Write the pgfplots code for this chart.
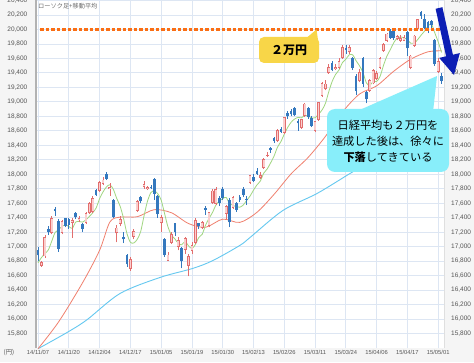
\documentclass[border=0pt]{standalone}
\usepackage{pgfplots}
\pgfplotsset{compat=1.18}
\usepackage{pgfplotstable}
\usepackage{fontspec}
\setmainfont{Liberation Sans}
\newfontfamily\jp{Noto Sans CJK JP}
\definecolor{gridc}{RGB}{221,230,243}
\definecolor{upfill}{RGB}{250,206,206}
\definecolor{upline}{RGB}{226,110,110}
\definecolor{downc}{RGB}{52,120,190}
\definecolor{mafive}{RGB}{160,214,128}
\definecolor{matwf}{RGB}{240,128,110}
\definecolor{masvf}{RGB}{100,200,240}
\definecolor{orangeline}{RGB}{250,110,20}
\definecolor{ybox}{RGB}{248,214,72}
\definecolor{cbox}{RGB}{136,238,250}
\definecolor{arrowc}{RGB}{12,30,180}
\definecolor{labc}{RGB}{85,85,85}
\definecolor{bgc}{RGB}{245,245,245}

\pgfplotstableread{
d O H L C
1 16740 16800 16720 16780
2 16870 17160 16850 17124
4 17190 17420 17170 17392
7 17200 17370 17170 17344
10 17330 17400 17120 17357
12 17370 17420 17340 17383
14 17330 17480 17310 17459
15 17470 17620 17450 17590
16 17480 17700 17460 17663
18 17780 17900 17750 17887
19 17870 17960 17850 17920
21 17800 17880 17700 17813
23 17190 17300 17060 17257
24 17320 17420 17280 17371
27 16700 16860 16670 16819
28 17140 17250 17100 17211
29 17500 17640 17480 17621
31 17830 17900 17800 17854
32 17800 17840 17780 17818
36 17330 17440 17200 17408
38 16810 16930 16800 16885
39 17060 17200 17040 17167
41 17000 17130 16950 17087
43 16960 17140 16900 17108
44 16740 16900 16590 16864
45 16950 17060 16900 17014
46 17060 17400 17040 17366
48 17260 17350 17240 17329
50 17290 17480 17270 17468
51 17610 17790 17590 17768
52 17600 17820 17580 17795
55 17460 17580 17380 17558
57 17540 17700 17520 17678
62 17885 17990 17870 17979
65 17960 18030 17940 17987
66 18090 18230 18070 18199
67 18260 18310 18240 18264
70 18470 18620 18450 18603
72 18580 18790 18560 18785
77 18650 18760 18630 18751
78 18810 18990 18790 18971
81 18600 18740 18580 18723
82 18760 19000 18740 18991
83 19090 19270 19070 19254
84 19180 19300 19160 19246
85 19400 19520 19390 19480
87 19460 19520 19440 19476
88 19480 19600 19460 19560
89 19610 19780 19590 19754
91 19690 19780 19660 19746
94 19290 19450 19270 19411
97 19160 19320 19140 19290
98 19260 19450 19240 19435
99 19320 19420 19300 19397
100 19475 19620 19450 19600
101 19710 19810 19690 19790
102 19850 19950 19830 19937
105 19870 19920 19850 19908
106 19850 19920 19830 19880
107 19850 19920 19840 19885
109 19475 19650 19450 19634
110 19780 19920 19760 19909
111 20015 20140 20000 20133
117 19420 19600 19400 19560
}\uptab

\pgfplotstableread{
d O H L C
0 16950 16990 16800 16880
3 17250 17290 17160 17197
5 17520 17550 17420 17490
6 17360 17380 16930 16973
8 17390 17400 17270 17288
9 17380 17400 17250 17300
11 17470 17480 17380 17407
13 17310 17330 17200 17248
17 17780 17800 17700 17720
20 18010 18030 17920 17935
22 17640 17660 17400 17412
25 17130 17200 17050 17099
26 16880 16900 16720 16755
30 17680 17700 17600 17635
33 17830 17850 17790 17808
34 17930 17950 17650 17729
35 17700 17720 17400 17450
37 17110 17120 16860 16883
40 17320 17330 17150 17197
42 16975 17000 16700 16795
47 17320 17330 17240 17280
49 17530 17560 17440 17511
53 17670 17700 17560 17606
54 17800 17820 17650 17674
56 17650 17670 17270 17335
58 17600 17620 17480 17504
59 17690 17720 17620 17648
60 17790 17830 17690 17711
61 17660 17700 17580 17652
63 17960 18000 17890 17913
64 18050 18090 17990 18004
68 18360 18380 18300 18332
69 18500 18520 18430 18466
71 18630 18650 18570 18585
73 18850 18870 18770 18798
74 18880 18900 18800 18826
75 18910 18930 18800 18815
76 18740 18760 18600 18703
79 18910 18930 18770 18790
80 18780 18800 18650 18665
86 19540 19560 19420 19440
90 19750 19780 19660 19713
92 19600 19620 19440 19471
93 19360 19390 19090 19150
95 19600 19620 19200 19250
96 19130 19150 18980 19034
103 19985 20010 19870 19880
104 19985 20000 19860 19880
108 19960 19980 19640 19740
112 20235 20250 20150 20187
113 20150 20210 20000 20020
114 20100 20110 19950 19983
115 20120 20130 20000 20058
116 19850 19870 19500 19520
118 19360 19400 19250 19292
}\downtab

\pgfplotstableread{
d v
0 16777
1 16850
2 16903
3 16955
4 17075
5 17197
6 17235
7 17279
8 17297
9 17279
10 17252
11 17339
12 17347
13 17339
14 17371
15 17417
16 17469
17 17536
18 17664
19 17756
20 17825
21 17855
22 17793
23 17667
24 17558
25 17390
26 17179
27 17060
28 17051
29 17101
30 17208
31 17428
32 17628
33 17747
34 17769
35 17732
36 17643
37 17456
38 17271
39 17159
40 17108
41 17044
42 17026
43 17071
44 17010
45 16974
46 17029
47 17126
48 17171
49 17300
50 17391
51 17471
52 17574
53 17630
54 17662
55 17680
56 17594
57 17570
58 17550
59 17545
60 17575
61 17639
62 17699
63 17781
64 17852
65 17907
66 18016
67 18073
68 18157
69 18250
70 18373
71 18450
72 18554
73 18647
74 18719
75 18762
76 18785
77 18779
78 18813
79 18806
80 18776
81 18780
82 18828
83 18885
84 18976
85 19139
86 19282
87 19379
88 19440
89 19542
90 19589
91 19650
92 19649
93 19567
94 19498
95 19406
96 19263
97 19227
98 19284
99 19281
100 19351
101 19502
102 19632
103 19721
104 19817
105 19879
106 19897
107 19887
108 19859
109 19809
110 19810
111 19860
112 19921
113 19977
114 20046
115 20076
116 19954
117 19828
118 19683
}\mafivetab

\pgfplotstableread{
d v
0 15590
6 15960
13 16500
18 16950
21 17340
24 17408
29 17413
34 17511
39 17468
44 17319
49 17268
54 17380
59 17335
64 17474
69 17722
74 18006
79 18234
84 18521
89 18859
94 19108
99 19221
104 19423
109 19590
114 19691
118 19705
}\matwftab

\pgfplotstableread{
d v
0 15590
8.5 15815
14.3 15990
24 16354
35.7 16575
45.3 16700
51.2 16810
59 17017
62 17127
71.6 17500
81.6 17735
91.2 18010
100 18260
109 18520
118 18770
}\masvftab

\begin{document}
\begin{tikzpicture}[x=1pt,y=1pt]
\fill[bgc] (0,0) rectangle (474,362);
\path[use as bounding box] (0,0) rectangle (474,362);
\begin{axis}[
  at={(36pt,14pt)}, anchor=south west,
  scale only axis, width=408pt, height=347.5pt,
  xmin=-0.6, xmax=118.7, ymin=15600, ymax=20400,
  axis background/.style={fill=white},
  axis line style={draw=none},
  xtick={0,9,...,117},
  xticklabels={14/11/07,14/11/20,14/12/04,14/12/17,15/01/05,15/01/19,15/01/30,15/02/13,15/02/26,15/03/11,15/03/24,15/04/06,15/04/17,15/05/01},
  ytick={15800,16000,16200,16400,16600,16800,17000,17200,17400,17600,17800,18000,18200,18400,18600,18800,19000,19200,19400,19600,19800,20000,20200,20400},
  scaled y ticks=false,
  major tick length=0pt, tick style={draw=none},
  grid=major, major grid style={gridc, line width=0.8pt},
  yticklabel style={font=\fontsize{6.5}{7}\selectfont, text=labc, inner sep=0pt, anchor=east},
  yticklabel shift=8.5pt,
  xticklabel style={font=\fontsize{5.8}{7}\selectfont, text=labc, inner sep=0pt, anchor=north},
  xticklabel shift=2.5pt,
  candle/.style={draw=none, mark=none, mark size=0pt},
  /pgf/number format/fixed,
  /pgf/number format/1000 sep={,},
  /pgf/number format/assume math mode=true,
]
\addplot[masvf, line width=0.9pt, smooth, mark=none] table[x=d, y=v] {\masvftab};
\addplot[matwf, line width=0.8pt, smooth, mark=none] table[x=d, y=v] {\matwftab};
\addplot[mafive, line width=0.8pt, smooth, mark=none] table[x=d, y=v] {\mafivetab};
% down candles
\addplot[candle, error bars/.cd, y dir=plus, y explicit, error mark=none,
  error bar style={draw=downc, line width=0.7pt}]
  table[x=d, y=L, y error plus expr=\thisrow{H}-\thisrow{L}] {\downtab};
\addplot[candle, error bars/.cd, y dir=plus, y explicit, error mark=none,
  error bar style={draw=downc, line width=2.6pt}]
  table[x=d, y=C, y error plus expr=\thisrow{O}-\thisrow{C}] {\downtab};
% up candles
\addplot[candle, error bars/.cd, y dir=plus, y explicit, error mark=none,
  error bar style={draw=upline, line width=0.7pt}]
  table[x=d, y=L, y error plus expr=\thisrow{H}-\thisrow{L}] {\uptab};
\addplot[candle, error bars/.cd, y dir=plus, y explicit, error mark=none,
  error bar style={draw=upline, line width=2.8pt}]
  table[x=d, y expr=\thisrow{O}-6, y error plus expr=\thisrow{C}-\thisrow{O}+12] {\uptab};
\addplot[candle, error bars/.cd, y dir=plus, y explicit, error mark=none,
  error bar style={draw=upfill, line width=1.6pt}]
  table[x=d, y expr=\thisrow{O}+6, y error plus expr={max(\thisrow{C}-\thisrow{O}-12,0)}] {\uptab};
% 20,000 line
\addplot[orangeline, line width=3pt, dash pattern=on 3.5pt off 2pt, mark=none] coordinates {(0.6,20000) (117.5,20000)};
\end{axis}
\begin{axis}[
  at={(36pt,14pt)}, anchor=south west,
  scale only axis, width=408pt, height=347.5pt,
  xmin=-0.6, xmax=118.7, ymin=15600, ymax=20400,
  hide x axis, axis y line*=right, y axis line style={draw=none},
  ytick={15800,16000,16200,16400,16600,16800,17000,17200,17400,17600,17800,18000,18200,18400,18600,18800,19000,19200,19400,19600,19800,20000,20200,20400},
  scaled y ticks=false,
  major tick length=0pt, tick style={draw=none},
  yticklabel style={font=\fontsize{6.5}{7}\selectfont, text=labc, inner sep=0pt, anchor=west},
  yticklabel shift=7pt,
  /pgf/number format/fixed,
  /pgf/number format/1000 sep={,},
  /pgf/number format/assume math mode=true,
]
\addplot[draw=none, mark=none] coordinates {(0,16000) (1,16000)};
\end{axis}
% frame lines
\draw[gray!60, line width=1.8pt] (36,14) -- (36,362);
\draw[gray!25, line width=0.6pt] (444,14) -- (444,362);
% legend text
\node[anchor=west, inner sep=0pt, text=gray!85!black, font=\jp\fontsize{6.2}{7}\selectfont] at (38,356) {ローソク足+移動平均};
% unit
\node[inner sep=0pt, text=labc, font=\jp\fontsize{6.3}{7}\selectfont] at (9,9) {(円)};
% yellow callout
\fill[ybox, rounded corners=5pt] (259,299) rectangle (319,325);
\fill[ybox] (304,322) -- (318,322) -- (316.5,332.5) -- cycle;
\node[font=\jp\bfseries\fontsize{12}{12}\selectfont] at (289,312) {２万円};
% cyan callout
\fill[cbox, rounded corners=8pt] (327,190) rectangle (449,253);
\fill[cbox] (355,250) -- (433,250) -- (437,286) -- cycle;
\node[align=center, inner sep=0pt, font=\jp\fontsize{11.2}{16}\selectfont] at (388,221) {日経平均も２万円を\\達成した後は、徐々に\\{\bfseries 下落}してきている};
% arrow
\fill[arrowc] (435.6,353.2) -- (442.4,354.8) -- (452.9,307.3) -- (459.8,308.9) -- (454,287) -- (439.2,304.1) -- (446.1,305.7) -- cycle;
\end{tikzpicture}
\end{document}
